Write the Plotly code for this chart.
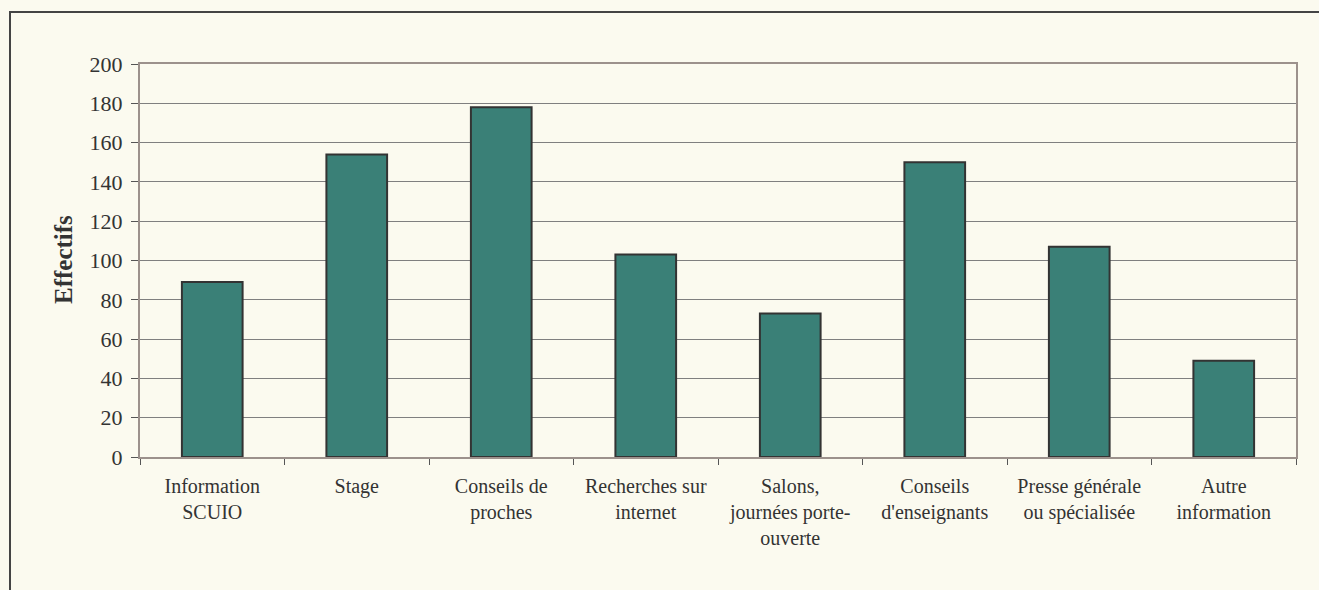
import plotly.graph_objects as go

categories = [
    "Information<br>SCUIO",
    "Stage",
    "Conseils de<br>proches",
    "Recherches sur<br>internet",
    "Salons,<br>journées porte-<br>ouverte",
    "Conseils<br>d'enseignants",
    "Presse générale<br>ou spécialisée",
    "Autre<br>information",
]
effectifs = [89, 154, 178, 103, 73, 150, 107, 49]
y_ticks = list(range(0, 201, 20))

BG = "#FBFAEF"
AXIS = "#9C918C"
FONT = "Liberation Serif"

fig = go.Figure(
    go.Bar(
        x=categories,
        y=effectifs,
        width=0.42,
        marker=dict(color="#3A8077", line=dict(color="#333333", width=2)),
    )
)

fig.update_layout(
    width=1319,
    height=590,
    margin=dict(l=140, r=23, t=64, b=133),
    paper_bgcolor=BG,
    plot_bgcolor=BG,
    showlegend=False,
    font=dict(family=FONT, color="#333333"),
)

fig.update_xaxes(
    type="category",
    tickson="boundaries",
    ticks="outside",
    ticklen=6,
    tickcolor="#555555",
    showline=True,
    linecolor=AXIS,
    linewidth=2,
    mirror=True,
    showgrid=False,
    tickfont=dict(family=FONT, size=20, color="#333333"),
    ticklabelstandoff=10,
    range=[-0.5, 7.5],
)

fig.update_yaxes(
    range=[0, 200],
    tickvals=y_ticks,
    ticks="outside",
    ticklen=7,
    tickcolor="#555555",
    showline=True,
    linecolor=AXIS,
    linewidth=2,
    mirror=True,
    showgrid=True,
    gridcolor="#7F7F7F",
    gridwidth=1,
    zeroline=False,
    tickfont=dict(family=FONT, size=22, color="#333333"),
    ticklabelstandoff=4,
)

fig.add_annotation(
    text="<b>Effectifs</b>",
    textangle=-90,
    xref="paper", yref="paper",
    x=(63 - 140) / 1156, y=(457 - 260) / 393,
    xanchor="center", yanchor="middle",
    showarrow=False,
    font=dict(family=FONT, size=25, color="#333333"),
)

# outer chart frame
fig.add_shape(
    type="rect",
    xref="paper", yref="paper",
    x0=(10 - 140) / 1156, x1=1.2,
    y0=-0.5, y1=(457 - 12) / 393,
    line=dict(color="#444444", width=2),
    layer="below",
)

fig.write_html("out.html")
